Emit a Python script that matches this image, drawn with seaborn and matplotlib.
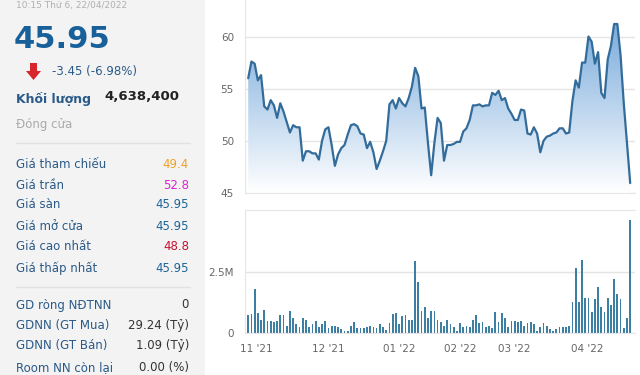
import numpy as np
import matplotlib
matplotlib.use("Agg")
import matplotlib.pyplot as plt
import seaborn as sns
from matplotlib.patches import Rectangle, Polygon
from matplotlib.colors import LinearSegmentedColormap

# closing price per session (thousand VND)
price = [56.0, 57.6, 57.4, 55.8, 56.3, 53.3, 53.0, 53.9, 53.4, 52.2,
         53.6, 52.8, 51.8, 50.8, 51.5, 51.3, 51.3, 48.1, 49.0, 49.0,
         48.8, 48.8, 48.2, 50.0, 51.1, 51.3, 49.6, 47.6, 48.7, 49.3,
         49.6, 50.6, 51.5, 51.6, 51.4, 50.7, 50.6, 49.3, 49.9, 48.9,
         47.3, 48.1, 49.0, 50.0, 53.5, 53.9, 53.1, 54.1, 53.6, 53.3,
         54.1, 55.2, 57.0, 56.2, 53.1, 53.2, 49.8, 46.7, 49.8, 52.2,
         51.7, 48.1, 49.6, 49.6, 49.7, 49.9, 49.9, 50.9, 51.2, 52.0,
         53.4, 53.4, 53.5, 53.3, 53.4, 53.4, 54.6, 54.4, 54.8, 53.9,
         54.1, 53.1, 52.6, 52.0, 52.0, 53.0, 52.9, 50.7, 50.6, 51.3,
         50.7, 48.9, 50.0, 50.4, 50.5, 50.7, 50.8, 51.2, 51.2, 50.7,
         50.8, 53.8, 55.8, 55.1, 57.5, 57.5, 60.0, 59.5, 57.4, 58.5,
         54.6, 54.1, 57.8, 59.1, 61.2, 61.2, 58.2, 53.6, 49.8, 45.95]

# traded volume per session (millions of shares)
volume = [0.75, 0.78, 1.8, 0.8, 0.55, 0.95, 0.5, 0.5, 0.45, 0.5,
          0.72, 0.72, 0.3, 0.9, 0.6, 0.38, 0.25, 0.6, 0.55, 0.25,
          0.35, 0.5, 0.25, 0.35, 0.5, 0.2, 0.3, 0.3, 0.25, 0.15,
          0.1, 0.1, 0.3, 0.45, 0.2, 0.2, 0.2, 0.25, 0.3, 0.25,
          0.2, 0.35, 0.25, 0.12, 0.4, 0.78, 0.8, 0.35, 0.7, 0.72,
          0.55, 0.55, 2.95, 2.1, 0.9, 1.05, 0.6, 0.9, 0.9, 0.55,
          0.45, 0.3, 0.55, 0.35, 0.25, 0.1, 0.4, 0.25, 0.3, 0.25,
          0.55, 0.72, 0.4, 0.45, 0.25, 0.3, 0.2, 0.85, 0.45, 0.8,
          0.6, 0.25, 0.5, 0.5, 0.45, 0.5, 0.3, 0.4, 0.45, 0.35,
          0.1, 0.25, 0.4, 0.28, 0.15, 0.1, 0.15, 0.25, 0.25, 0.25,
          0.3, 1.25, 2.65, 1.25, 3.0, 1.45, 1.45, 0.85, 1.4, 1.9,
          1.05, 0.85, 1.45, 1.15, 2.2, 1.6, 1.38, 0.2, 0.6, 4.64]

month_labels = ["11 '21", "12 '21", "01 '22", "02 '22", "03 '22", "04 '22"]
month_pos = [2.6, 24.9, 47.1, 66.0, 82.8, 105.5]

price_ticks = [45, 50, 55, 60]
vol_ticks = [0, 2.5]
vol_tick_labels = ["0", "2.5M"]

info_rows = [("Giá tham chiếu", "49.4", "#f0a028"),
             ("Giá trần", "52.8", "#e020d0"),
             ("Giá sàn", "45.95", "#1d6496"),
             ("Giá mở cửa", "45.95", "#1d6496"),
             ("Giá cao nhất", "48.8", "#c8102e"),
             ("Giá thấp nhất", "45.95", "#1d6496")]
foreign_rows = [("GD ròng NĐTNN", "0"),
                ("GDNN (GT Mua)", "29.24 (Tỷ)"),
                ("GDNN (GT Bán)", "1.09 (Tỷ)"),
                ("Room NN còn lại", "0.00 (%)")]

sns.set_style("white")
plt.rcParams["font.family"] = ["DejaVu Sans"]

W, H = 640, 375
fig = plt.figure(figsize=(6.4, 3.75), dpi=100)


def fx(x):
    return x / W


def fy(y):
    return 1 - y / H


# left info panel
fig.patches.append(Rectangle((0, 0), fx(205), 1, transform=fig.transFigure,
                             facecolor="#f3f3f3", edgecolor="none", zorder=0))

label_col = "#2a5a88"
fig.text(fx(16), fy(1), "10:15 Thứ 6, 22/04/2022", color="#b0b0b0",
         fontsize=6.5, va="top")
fig.text(fx(14), fy(40), "45.95", color="#17609a", fontsize=22,
         fontweight="bold", va="center")
arrow = [(30, 63), (37, 63), (37, 71), (41, 71), (33.5, 80), (26, 71), (30, 71)]
fig.patches.append(Polygon([(fx(a), fy(b)) for a, b in arrow], closed=True,
                           transform=fig.transFigure, facecolor="#d7262b",
                           edgecolor="none"))
fig.text(fx(52), fy(72), "-3.45 (-6.98%)", color="#2a5a88", fontsize=8.5,
         va="center")
fig.text(fx(16), fy(99), "Khối lượng", color=label_col, fontsize=9,
         fontweight="bold", va="center")
fig.text(fx(179), fy(97), "4,638,400", color="#222222", fontsize=9.5,
         fontweight="bold", va="center", ha="right")
fig.text(fx(16), fy(125), "Đóng cửa", color="#aaaaaa", fontsize=8.5,
         va="center")
for yy in (143, 287):
    fig.add_artist(plt.Line2D([fx(16), fx(190)], [fy(yy), fy(yy)],
                              transform=fig.transFigure, color="#e2e2e2", lw=1))

row_y = [164, 185, 205, 226, 247, 268]
for (lab, val, col), yy in zip(info_rows, row_y):
    fig.text(fx(16), fy(yy), lab, color=label_col, fontsize=8.5, va="center")
    fig.text(fx(189), fy(yy), val, color=col, fontsize=8.5, va="center",
             ha="right")

row_y2 = [305, 326, 346, 368]
for (lab, val), yy in zip(foreign_rows, row_y2):
    fig.text(fx(16), fy(yy), lab, color=label_col, fontsize=8.5, va="center")
    fig.text(fx(189), fy(yy), val, color="#333333", fontsize=8.5, va="center",
             ha="right")

# price chart
idx = np.arange(len(price))
xlim = (-1.0, 120.5)
ax1 = fig.add_axes([fx(245), fy(193), 390 / W, 193 / H])
ax1.set_xlim(*xlim)
ax1.set_ylim(45, 63.5)

cmap = LinearSegmentedColormap.from_list("fade", ["#ffffff", "#6fa5da"])
grad = np.linspace(0, 1, 256).reshape(-1, 1)
img = ax1.imshow(grad, cmap=cmap, aspect="auto", origin="lower",
                 extent=[xlim[0], xlim[1], 45, max(price)], zorder=1,
                 vmin=0, vmax=1.08)
poly = ax1.fill_between(idx, price, 45, color="none", zorder=1)
img.set_clip_path(poly.get_paths()[0], transform=ax1.transData)
sns.lineplot(x=idx, y=price, ax=ax1, color="#336c9a", lw=1.6, zorder=3)

ax1.set_yticks(price_ticks)
ax1.set_xticks([])
ax1.grid(axis="y", color="#e4e4e4", lw=1)
ax1.set_axisbelow(True)
for s in ("top", "right"):
    ax1.spines[s].set_visible(False)
ax1.spines["left"].set_color("#e6e6e6")
ax1.spines["bottom"].set_color("#e6e6e6")
ax1.tick_params(axis="y", length=0, pad=8, labelsize=7.5, labelcolor="#666666")
ax1.set_xlabel("")
ax1.set_ylabel("")

# volume chart
ax2 = fig.add_axes([fx(245), fy(333), 390 / W, 123 / H])
sns.barplot(x=np.arange(len(volume)), y=volume, ax=ax2, color="#3d7ea3",
            width=0.55, linewidth=0, saturation=1)
ax2.set_xlim(*xlim)
ax2.set_ylim(0, 5.04)
ax2.set_yticks(vol_ticks)
ax2.set_yticklabels(vol_tick_labels)
ax2.set_xticks(month_pos)
ax2.set_xticklabels(month_labels)
ax2.grid(axis="y", color="#e4e4e4", lw=1)
ax2.set_axisbelow(True)
ax2.spines["right"].set_visible(False)
for s in ("top", "left", "bottom"):
    ax2.spines[s].set_color("#e6e6e6")
ax2.tick_params(axis="y", length=0, pad=8, labelsize=7.5, labelcolor="#666666")
ax2.tick_params(axis="x", length=6, width=1, color="#d0d8e0", pad=2,
                labelsize=7.5, labelcolor="#666666", direction="out")
ax2.set_xlabel("")
ax2.set_ylabel("")

fig.savefig("out.png", dpi=100)
